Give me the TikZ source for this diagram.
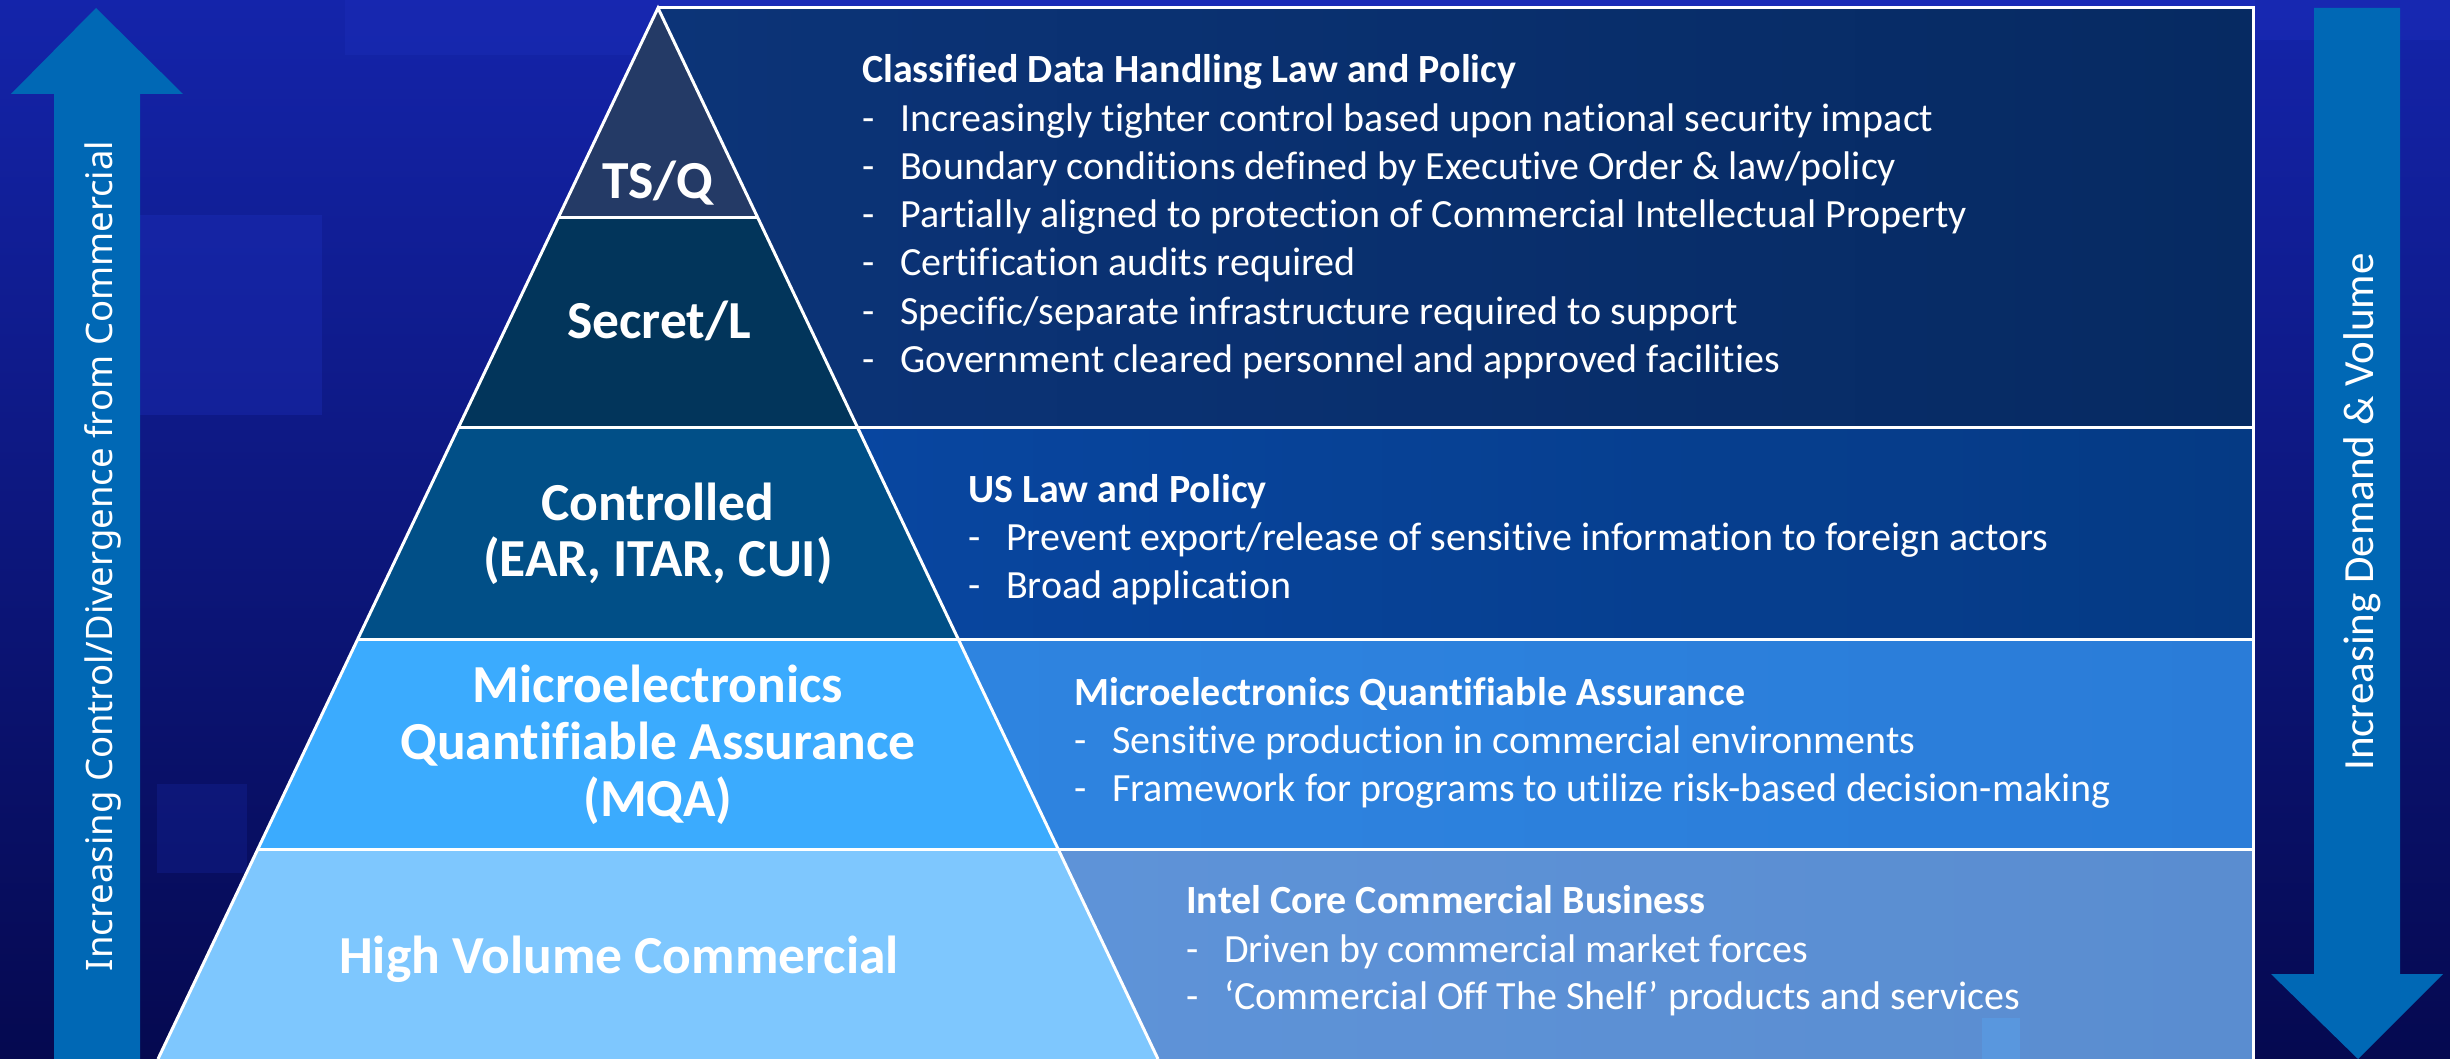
\documentclass[tikz,border=0pt]{standalone}
\usepackage{fontspec}
\setmainfont{Carlito}[Ligatures=NoCommon]
\newfontfamily\sidefont{Noto Sans}

\definecolor{bgtop}{HTML}{1424AA}
\definecolor{bgmid}{HTML}{0E1890}
\definecolor{bgbot}{HTML}{050950}
\definecolor{tile}{HTML}{2033C4}
\definecolor{arrowblue}{HTML}{0068B5}
\definecolor{tsqfill}{HTML}{243A66}
\definecolor{secretfill}{HTML}{02355B}
\definecolor{ctrlfill}{HTML}{014F87}
\definecolor{mqafill}{HTML}{3BABFE}
\definecolor{hvcfill}{HTML}{7EC7FE}
\definecolor{boxAl}{HTML}{0C3478}
\definecolor{boxAr}{HTML}{062A62}
\definecolor{boxBl}{HTML}{0846A0}
\definecolor{boxBr}{HTML}{053A84}
\definecolor{boxCl}{HTML}{2E84E0}
\definecolor{boxCr}{HTML}{2A7CD8}
\definecolor{boxDl}{HTML}{5E93D8}
\definecolor{boxDr}{HTML}{5A8DD0}

\newcommand{\bdash}{\makebox[38pt][l]{-}}

\begin{document}
\begin{tikzpicture}[x=1pt,y=-1pt,
  edge/.style={draw=white,line width=3pt,line join=miter},
  plab/.style={text=white,inner sep=0pt,anchor=base,font=\fontsize{53.5}{60}\selectfont\bfseries},
  head/.style={text=white,inner sep=0pt,anchor=base west,font=\fontsize{40}{46}\selectfont\bfseries},
  item/.style={text=white,inner sep=0pt,anchor=base west,font=\fontsize{40}{46}\selectfont},
  bigarrow/.style={fill=arrowblue,draw=none}]
\useasboundingbox (0,0) rectangle (2450,1059);

% backdrop
\shade[top color=bgtop,middle color=bgmid,bottom color=bgbot] (0,0) rectangle (2450,1059);
\fill[tile,opacity=.25] (345,0) rectangle (660,55);
\fill[tile,opacity=.3] (140,215) rectangle (322,415);
\fill[tile,opacity=.2] (157,784) rectangle (247,873);
\fill[tile,opacity=.5] (660,0) rectangle (2255,10);
\fill[tile,opacity=.3] (2255,0) rectangle (2450,40);

% left arrow (up)
\fill[bigarrow] (54,1059) -- (54,94) -- (11,94) -- (96,8) -- (183,94) -- (140,94) -- (140,1059) -- cycle;
% right arrow (down)
\fill[bigarrow] (2314,8) -- (2400,8) -- (2400,974) -- (2443,974) -- (2358,1059) -- (2271,974) -- (2314,974) -- cycle;

% description boxes
\shade[left color=boxAl,right color=boxAr] (658,8) -- (2253,8) -- (2253,427) -- (858,427) -- cycle;
\shade[left color=boxBl,right color=boxBr] (858,427) -- (2253,427) -- (2253,639) -- (958,639) -- cycle;
\shade[left color=boxCl,right color=boxCr] (958,639) -- (2253,639) -- (2253,849) -- (1058,849) -- cycle;
\shade[left color=boxDl,right color=boxDr] (1058,849) -- (2253,849) -- (2253,1059) -- (1158,1059) -- cycle;
\fill[fill=boxCl!80!white,opacity=.6] (1982,1018) rectangle (2020,1059);

% pyramid bands
\fill[tsqfill] (658,8) -- (758,218) -- (558,218) -- cycle;
\fill[secretfill] (558,218) -- (758,218) -- (858,427) -- (458,427) -- cycle;
\fill[ctrlfill] (458,427) -- (858,427) -- (958,639) -- (358,639) -- cycle;
\fill[mqafill] (358,639) -- (958,639) -- (1058,849) -- (258,849) -- cycle;
\fill[hvcfill] (258,849) -- (1058,849) -- (1158,1059) -- (158,1059) -- cycle;

% outlines
\draw[edge] (158,1059) -- (658,8) -- (1158,1059);
\draw[edge] (658,8) -- (2253,8) -- (2253,1059);
\draw[edge] (558,218) -- (758,218);
\draw[edge] (458,427) -- (2253,427);
\draw[edge] (358,639) -- (2253,639);
\draw[edge] (258,849) -- (2253,849);

% pyramid labels
\node[plab] (tsq) at (658,199) {TS/Q};
\node[plab] (secret) at (659,338) {Secret/L};
\node[plab] (ctrlA) at (658,520) {Controlled};
\node[plab] (ctrlB) at (658,576) {(EAR, ITAR, CUI)};
\node[plab] (mqaA) at (658,702) {Microelectronics};
\node[plab] (mqaB) at (658,759) {Quantifiable Assurance};
\node[plab] (mqaC) at (658,816) {(MQA)};
\node[plab] (hvc) at (619,973) {High Volume Commercial};

% classified
\node[head] (clsH) at (862,83) {Classified Data Handling Law and Policy};
\node[item] (clsA) at (862,132) {\bdash Increasingly tighter control based upon national security impact};
\node[item] (clsB) at (862,180) {\bdash Boundary conditions defined by Executive Order \& law/policy};
\node[item] (clsC) at (862,228) {\bdash Partially aligned to protection of Commercial Intellectual Property};
\node[item] (clsD) at (862,276) {\bdash Certification audits required};
\node[item] (clsE) at (862,324) {\bdash Specific/separate infrastructure required to support};
\node[item] (clsF) at (862,372) {\bdash Government cleared personnel and approved facilities};

% controlled
\node[head] (usH) at (968,502) {US Law and Policy};
\node[item] (usA) at (968,550) {\bdash Prevent export/release of sensitive information to foreign actors};
\node[item] (usB) at (968,598) {\bdash Broad application};

% MQA
\node[head] (mqH) at (1074,705) {Microelectronics Quantifiable Assurance};
\node[item] (mqA) at (1074,753) {\bdash Sensitive production in commercial environments};
\node[item] (mqB) at (1074,801) {\bdash Framework for programs to utilize risk-based decision-making};

% commercial
\node[head] (icH) at (1186,913) {Intel Core Commercial Business};
\node[item] (icA) at (1186,962) {\bdash Driven by commercial market forces};
\node[item] (icB) at (1186,1009) {\bdash ‘Commercial Off The Shelf’ products and services};

% arrow captions
\node[text=white,inner sep=0pt,anchor=base,rotate=90,font=\sidefont\fontsize{36.5}{42}\selectfont] (upcap) at (112,556) {Increasing Control/Divergence from Commercial};
\node[text=white,inner sep=0pt,anchor=base,rotate=90,font=\fontsize{43}{48}\selectfont] (downcap) at (2373,512) {Increasing Demand \& Volume};
\end{tikzpicture}
\end{document}
